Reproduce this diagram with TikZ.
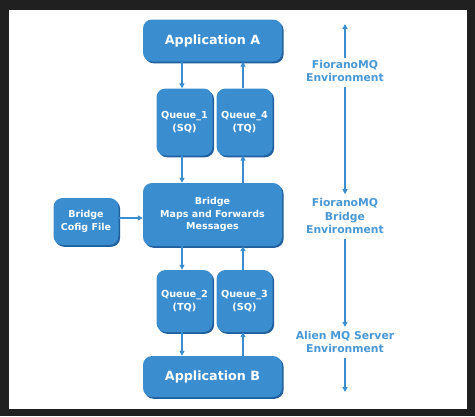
\documentclass[tikz,border=0pt]{standalone}
\usepackage{fontspec}
\setmainfont{DejaVu Sans}
\usetikzlibrary{arrows.meta}
\definecolor{boxblue}{RGB}{58,141,206}
\definecolor{shadowblue}{RGB}{32,96,158}
\definecolor{labelblue}{RGB}{72,152,214}
\definecolor{framegray}{RGB}{32,32,32}
\tikzset{
  box/.style={draw=none, fill=boxblue, text=white, font=\bfseries, align=center,
    rounded corners=9pt, inner sep=0pt,
    preaction={fill=shadowblue, rounded corners=9pt, transform canvas={shift={(1.6pt,-1.8pt)}}}},
  appbox/.style={box, minimum width=139pt, minimum height=42pt, font=\bfseries\fontsize{12.7}{14}\selectfont},
  qbox/.style={box, minimum width=56pt, font=\bfseries\fontsize{9.7}{12.5}\selectfont},
  brbox/.style={box, font=\bfseries\fontsize{9.5}{12.5}\selectfont},
  envlabel/.style={text=labelblue, font=\bfseries\fontsize{10.8}{13.5}\selectfont, align=center, inner sep=0pt},
  flow/.style={draw=boxblue, line width=1.3pt, -{Triangle[length=5pt,width=5pt]}},
}
\begin{document}
\begin{tikzpicture}[x=1pt,y=-1pt]
\fill[framegray] (0,0) rectangle (475,416);
\fill[white] (9,10) rectangle (467,409);
\useasboundingbox (0,0) rectangle (475,416);

\node[appbox] (appA) at (212.5,40.5) {Application A};
\node[qbox, minimum height=67pt] (q1) at (184.5,122) {Queue\_1\\(SQ)};
\node[qbox, minimum height=67pt] (q4) at (244.5,122) {Queue\_4\\(TQ)};
\node[brbox, minimum width=139pt, minimum height=63pt] (br) at (212.5,214.5) {Bridge\\Maps and Forwards\\Messages};
\node[brbox, minimum width=65pt, minimum height=47pt] (cfg) at (86,221.5) {Bridge\\Cofig File};
\node[qbox, minimum height=62pt] (q2) at (184.5,301) {Queue\_2\\(TQ)};
\node[qbox, minimum height=62pt] (q3) at (244.5,301) {Queue\_3\\(SQ)};
\node[appbox, minimum height=41pt] (appB) at (212.5,376.5) {Application B};

\draw[flow] (appA.south -| 182,0) -- (q1.north -| 182,0);
\draw[flow] (q4.north -| 243,0) -- (appA.south -| 243,0);
\draw[flow] (q1.south -| 182,0) -- (br.north -| 182,0);
\draw[flow] (br.north -| 243,0) -- (q4.south -| 243,0);
\draw[flow] (cfg.east |- 0,218) -- (br.west |- 0,218);
\draw[flow] (br.south -| 182,0) -- (q2.north -| 182,0);
\draw[flow] (q3.north -| 243,0) -- (br.south -| 243,0);
\draw[flow] (q2.south -| 182,0) -- (appB.north -| 182,0);
\draw[flow] (appB.north -| 243,0) -- (q3.south -| 243,0);

\node[envlabel] (e1) at (345,71) {FioranoMQ\\Environment};
\node[envlabel] (e2) at (345,216) {FioranoMQ\\Bridge\\Environment};
\node[envlabel] (e3) at (345,342) {Alien MQ Server\\Environment};
\coordinate (t1) at (345,24);
\coordinate (t4) at (345,392);

\draw[flow] ([yshift=2pt]e1.north) -- (t1);
\draw[flow] ([yshift=-5pt]e1.south) -- ([yshift=4pt]e2.north);
\draw[flow] ([yshift=-5pt]e2.south) -- ([yshift=4pt]e3.north);
\draw[flow] ([yshift=-5pt]e3.south) -- (t4);
\end{tikzpicture}
\end{document}
